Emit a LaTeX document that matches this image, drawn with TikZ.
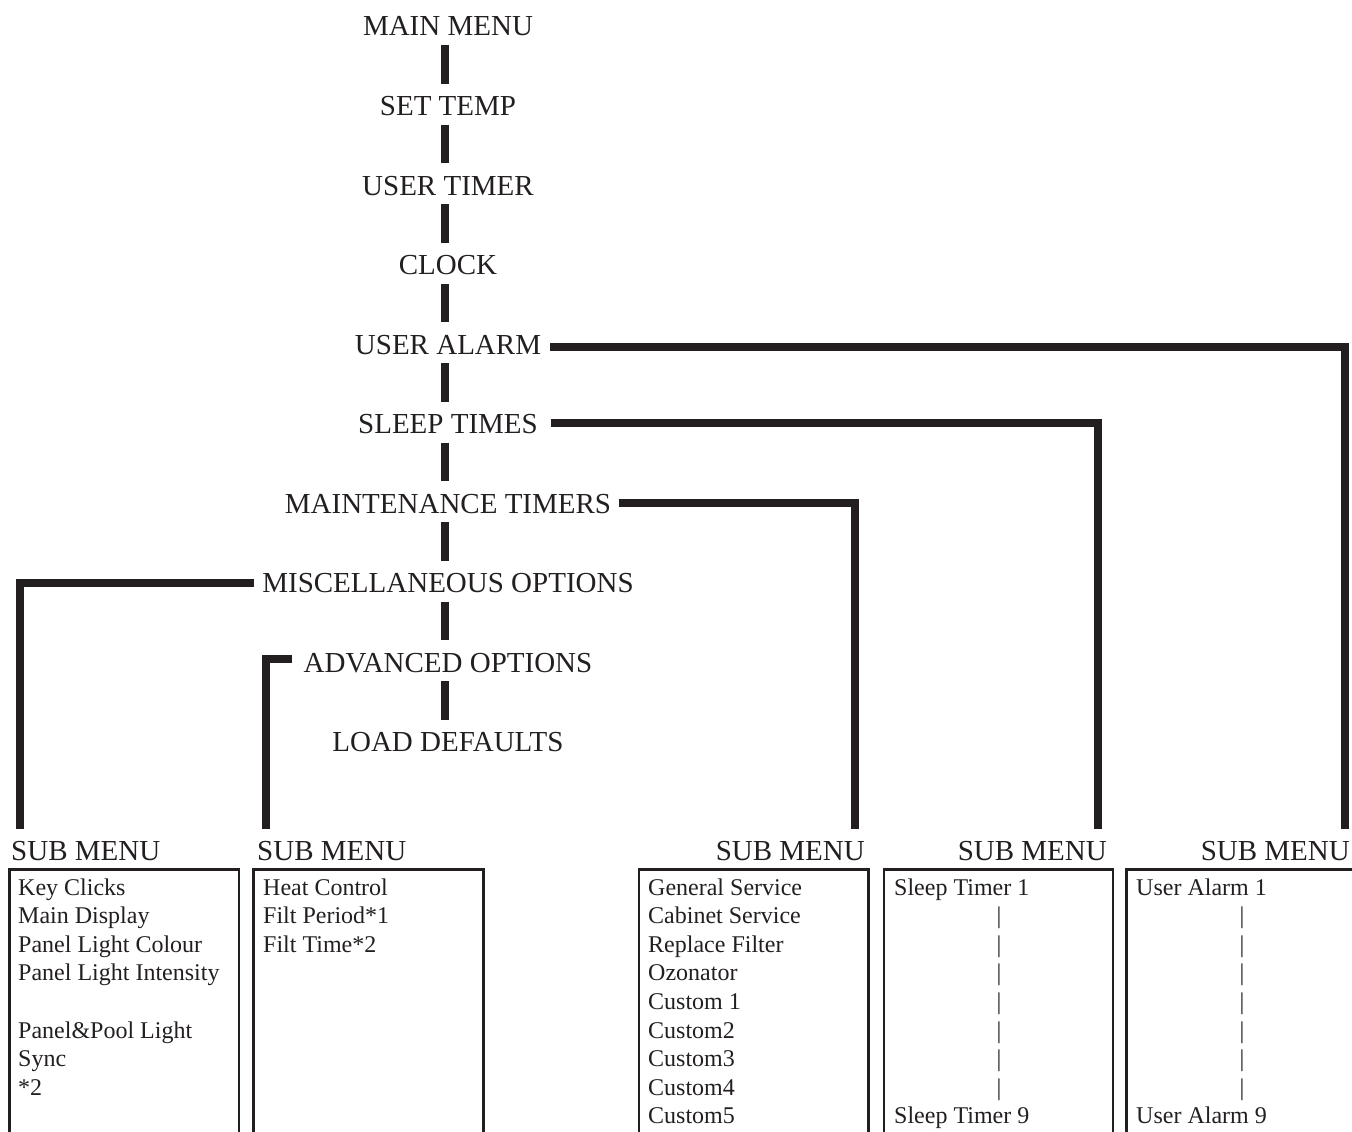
\documentclass[tikz,border=0pt]{standalone}
\usepackage{fontspec}
\setmainfont{Liberation Serif}
\definecolor{ink}{HTML}{231F20}
\begin{document}
\begin{tikzpicture}[x=1pt,y=-1pt,
  menu/.style={font=\fontsize{29}{34}\selectfont, inner sep=0pt, anchor=base, text=ink},
  sublabel/.style={font=\fontsize{29}{34}\selectfont, inner sep=0pt, text=ink},
  item/.style={font=\fontsize{24}{28.6}\selectfont, inner sep=0pt, anchor=base west, text=ink},
  tickmark/.style={font=\fontsize{24}{28.6}\selectfont, inner sep=0pt, anchor=base, text=ink},
  link/.style={draw=ink, line width=8pt, line join=miter},
  bar/.style={draw=ink, line width=8pt},
  boxframe/.style={draw=ink, line width=2.5pt}]
\useasboundingbox (0,0) rectangle (1352,1132);

% main menu column
\foreach \t [count=\i from 0] in {MAIN MENU, SET TEMP, USER TIMER, CLOCK, USER ALARM, SLEEP TIMES, MAINTENANCE TIMERS, MISCELLANEOUS OPTIONS, ADVANCED OPTIONS, LOAD DEFAULTS}
  \node[menu] (m\i) at (448,{36+79.5*\i}) {\t};

\foreach \i [remember=\i as \p (initially 0)] in {1,...,9}
  \draw[bar] ([xshift=-3pt,yshift=-9pt]m\p.base) -- ([xshift=-3pt,yshift=32pt]m\i.base);

% sub menu labels
\node[sublabel, anchor=base west] (s1) at (11,860) {SUB MENU};
\node[sublabel, anchor=base west] (s2) at (257,860) {SUB MENU};
\node[sublabel, anchor=base east] (s3) at (865,860) {SUB MENU};
\node[sublabel, anchor=base east] (s4) at (1107,860) {SUB MENU};
\node[sublabel, anchor=base east] (s5) at (1350,860) {SUB MENU};

\coordinate (e1) at (19.5,829);
\coordinate (e2) at (265.5,829);
\coordinate (e3) at (855,829);
\coordinate (e4) at (1098,829);
\coordinate (e5) at (1344.5,829);

% branch connectors
\draw[link] ([xshift=9pt,yshift=7pt]m4.base east) -| (e5);
\draw[link] ([xshift=13pt,yshift=10.5pt]m5.base east) -| (e4);
\draw[link] ([xshift=8pt,yshift=10.5pt]m6.base east) -| (e3);
\draw[link] ([xshift=-8pt,yshift=9.5pt]m7.base west) -| (e1);
\draw[link] ([xshift=-11pt,yshift=13pt]m8.base west) -| (e2);

% boxes
\draw[boxframe] (9.5,869.5) rectangle (239,1150);
\draw[boxframe] (253.5,869.5) rectangle (483.3,1150);
\draw[boxframe] (638.8,869.5) rectangle (868.5,1150);
\draw[boxframe] (884,869.5) rectangle (1113,1150);
\draw[boxframe] (1126.5,869.5) rectangle (1356,1150);

% box contents
\foreach \t [count=\r from 0] in {Key Clicks, Main Display, Panel Light Colour, Panel Light Intensity, {}, Panel\&Pool Light, Sync, *2}
  \node[item] (a\r) at (18,{895+28.6*\r}) {\t};
\foreach \t [count=\r from 0] in {Heat Control, Filt Period*1, Filt Time*2}
  \node[item] (b\r) at (263,{895+28.6*\r}) {\t};
\foreach \t [count=\r from 0] in {General Service, Cabinet Service, Replace Filter, Ozonator, Custom 1, Custom2, Custom3, Custom4, Custom5}
  \node[item] (c\r) at (648,{895+28.6*\r}) {\t};
\node[item] (d0) at (894,895) {Sleep Timer 1};
\foreach \r in {1,...,7}
  \node[tickmark] (d\r) at (999,{895+28.6*\r}) {|};
\node[item] (d8) at (894,{895+28.6*8}) {Sleep Timer 9};
\node[item] (f0) at (1136,895) {User Alarm 1};
\foreach \r in {1,...,7}
  \node[tickmark] (f\r) at (1242,{895+28.6*\r}) {|};
\node[item] (f8) at (1136,{895+28.6*8}) {User Alarm 9};
\end{tikzpicture}
\end{document}
